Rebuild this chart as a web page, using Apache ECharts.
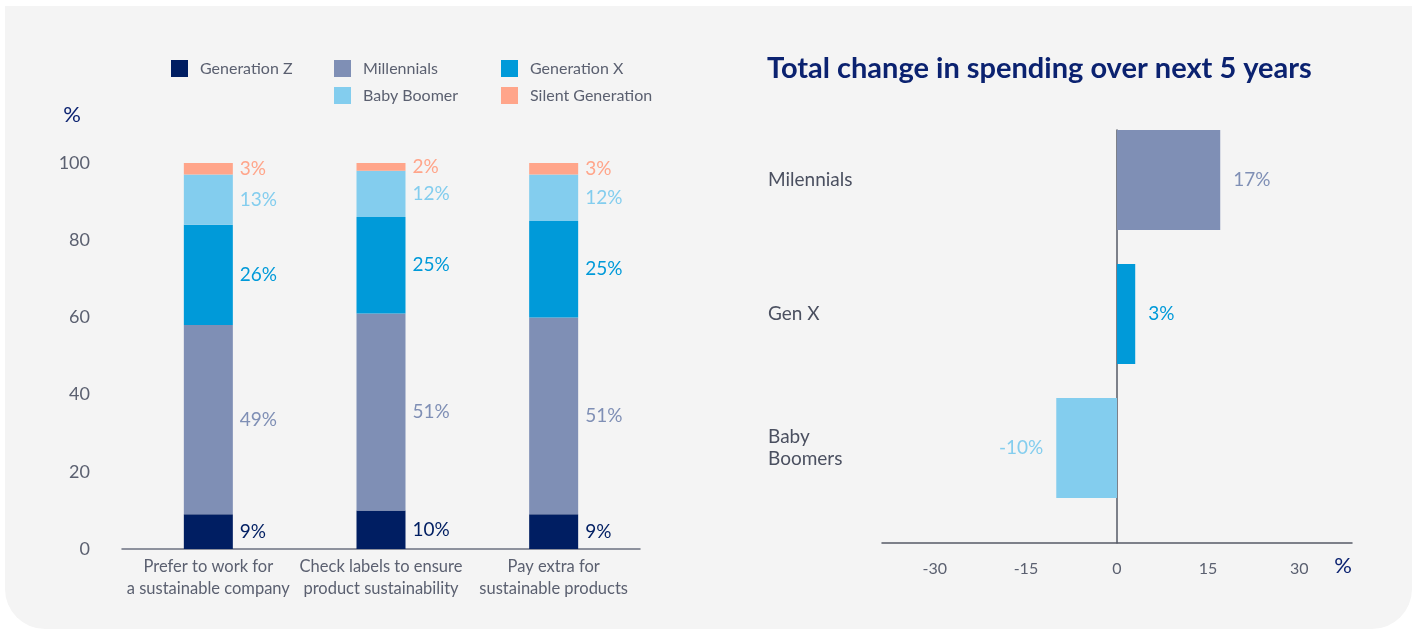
<!DOCTYPE html>
<html>
<head>
<meta charset="utf-8">
<script src="https://cdn.jsdelivr.net/npm/echarts@6/dist/echarts.min.js"></script>
<style>
  body { margin: 0; background: #ffffff; }
  #panel { position: absolute; left: 5px; top: 6px; width: 1407px; height: 623px; background: #f4f4f4; border-radius: 0 0 40px 40px; }
  #myChart { position: absolute; left: 0; top: 0; width: 1414px; height: 629px; }
</style>
</head>
<body>
<div id="panel"></div>
<div id="myChart"></div>
<script>
// share of each generation, per attitude (%)
var categories = ['Prefer to work for\na sustainable company', 'Check labels to ensure\nproduct sustainability', 'Pay extra for\nsustainable products'];
var genZ = [9, 10, 9];
var millennials = [49, 51, 51];
var genX = [26, 25, 25];
var babyBoomer = [13, 12, 12];
var silentGen = [3, 2, 3];

// total change in spending over next 5 years (%)
var spendCategories = ['Milennials', 'Gen X', 'Baby\nBoomers'];
var spendChange = [17, 3, -10];
var spendTicks = [-30, -15, 0, 15, 30];

var FONT = 'Lato';
var GREY = '#5b6070';
var NAVY = '#0b2270';
var colors = {
  'Generation Z': '#001e62',
  'Milennials': '#7f8fb5',
  'Generation X': '#009ad9',
  'Baby Boomer': '#83cdee',
  'Silent Generation': '#ffa58a'
};

window.onload = function(){
  var myChart = echarts.init(document.getElementById('myChart'));

  function legendItem(name, left, top){
    return {
      data: [name], left: left, top: top, padding: 0,
      icon: 'rect', itemWidth: 17, itemHeight: 17,
      selectedMode: false,
      textStyle: { color: GREY, fontSize: 16, fontFamily: FONT, padding: [0, 0, 0, 7] }
    };
  }

  function stackSeries(name, values, color){
    return {
      name: name, type: 'bar', stack: 'share', barWidth: 49,
      xAxisIndex: 0, yAxisIndex: 0,
      itemStyle: { color: color },
      label: {
        show: true, position: 'right', distance: 7,
        formatter: '{c}%', color: color,
        fontSize: 19, fontFamily: FONT
      },
      data: values
    };
  }

  var spendData = spendChange.map(function(v, i){
    var c = [colors['Milennials'], colors['Generation X'], colors['Baby Boomer']][i];
    return {
      value: v,
      itemStyle: { color: c },
      label: { position: v < 0 ? 'left' : 'right', color: c }
    };
  });

  var option = {
    animation: false,
    textStyle: { fontFamily: FONT },
    title: {
      text: 'Total change in spending over next 5 years',
      left: 767, top: 54, padding: 0,
      textStyle: { color: NAVY, fontSize: 29, fontWeight: 'bold', fontFamily: FONT }
    },
    legend: [
      legendItem('Generation Z', 171, 60),
      legendItem('Millennials', 334, 60),
      legendItem('Generation X', 501, 60),
      legendItem('Baby Boomer', 334, 87),
      legendItem('Silent Generation', 501, 87)
    ],
    grid: [
      // stacked share bars
      { left: 122, right: 774, top: 163, bottom: 80 },
      // spending bars
      { left: 882, right: 62, top: 113, bottom: 114 },
      // spending axes (zero line + value axis)
      { left: 882, right: 62, top: 130, bottom: 86 }
    ],
    xAxis: [
      {
        gridIndex: 0, type: 'category', data: categories,
        axisLine: { lineStyle: { color: '#6b7080', width: 1.5 } },
        axisTick: { show: false },
        axisLabel: { interval: 0, color: GREY, fontSize: 16.5, lineHeight: 22, margin: 7, fontFamily: FONT }
      },
      {
        gridIndex: 1, type: 'value', min: -38.7, max: 38.7, show: false
      },
      {
        gridIndex: 2, type: 'value', min: -38.7, max: 38.7,
        axisLine: { onZero: false, lineStyle: { color: '#555a66', width: 1.5 } },
        axisTick: { show: false },
        splitLine: { show: false },
        axisLabel: { customValues: spendTicks, color: GREY, fontSize: 16, margin: 18, fontFamily: FONT },
        name: '%', nameLocation: 'end', nameGap: 0,
        nameTextStyle: { color: NAVY, fontSize: 22, fontFamily: FONT, align: 'right', verticalAlign: 'top', padding: [12, 0, 0, 0] }
      }
    ],
    yAxis: [
      {
        gridIndex: 0, type: 'value', min: 0, max: 100, interval: 20,
        axisLine: { show: false }, axisTick: { show: false },
        splitLine: { show: false },
        axisLabel: { color: GREY, fontSize: 18, margin: 32, fontFamily: FONT },
        name: '%', nameLocation: 'end', nameGap: 37,
        nameTextStyle: { color: NAVY, fontSize: 22, fontFamily: FONT, align: 'right', padding: [0, 41, 0, 0] }
      },
      {
        gridIndex: 1, type: 'category', data: spendCategories, inverse: true,
        axisLine: { show: false }, axisTick: { show: false },
        axisLabel: { align: 'left', margin: 114, color: '#4b5060', fontSize: 19, lineHeight: 22, fontFamily: FONT }
      },
      {
        gridIndex: 2, type: 'value', min: 0, max: 1,
        axisLine: { show: true, onZero: true, lineStyle: { color: '#555a66', width: 1.5 } },
        axisTick: { show: false }, axisLabel: { show: false }, splitLine: { show: false }
      }
    ],
    series: [
      stackSeries('Generation Z', genZ, colors['Generation Z']),
      stackSeries('Millennials', millennials, colors['Milennials']),
      stackSeries('Generation X', genX, colors['Generation X']),
      stackSeries('Baby Boomer', babyBoomer, colors['Baby Boomer']),
      stackSeries('Silent Generation', silentGen, colors['Silent Generation']),
      {
        name: 'Spending change', type: 'bar', xAxisIndex: 1, yAxisIndex: 1,
        barWidth: 100,
        label: { show: true, distance: 13, formatter: '{c}%', fontSize: 19, fontFamily: FONT },
        data: spendData
      }
    ]
  };
  myChart.setOption(option);
};
</script>
</body>
</html>
